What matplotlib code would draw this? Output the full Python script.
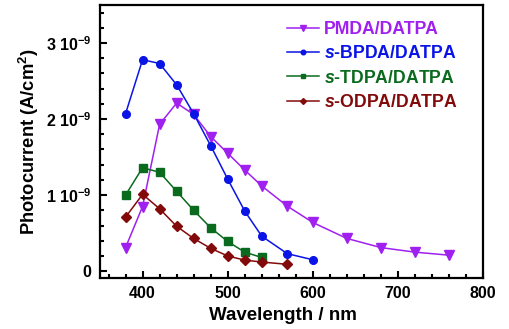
import matplotlib
matplotlib.use('Agg')
import matplotlib.pyplot as plt
from matplotlib.ticker import MultipleLocator, FixedLocator, FuncFormatter

plt.rcParams['font.family'] = 'Liberation Sans'
plt.rcParams['font.weight'] = 'bold'
plt.rcParams['mathtext.fontset'] = 'custom'
plt.rcParams['mathtext.rm'] = 'Liberation Sans:bold'
plt.rcParams['mathtext.it'] = 'Liberation Sans:italic:bold'
plt.rcParams['mathtext.bf'] = 'Liberation Sans:bold'

# photocurrent in units of 1e-9 A/cm2
pmda_x = [380, 400, 420, 440, 460, 480, 500, 520, 540, 570, 600, 640, 680, 720, 760]
pmda_y = [0.31, 0.85, 1.93, 2.21, 2.06, 1.77, 1.55, 1.33, 1.12, 0.855, 0.64, 0.43, 0.31, 0.25, 0.21]

bpda_x = [380, 400, 420, 440, 460, 480, 500, 520, 540, 570, 600]
bpda_y = [2.07, 2.78, 2.73, 2.45, 2.07, 1.65, 1.21, 0.79, 0.46, 0.23, 0.15]

tdpa_x = [380, 400, 420, 440, 460, 480, 500, 520, 540]
tdpa_y = [1.00, 1.36, 1.30, 1.05, 0.80, 0.57, 0.39, 0.25, 0.18]

odpa_x = [380, 400, 420, 440, 460, 480, 500, 520, 540, 570]
odpa_y = [0.71, 1.01, 0.82, 0.59, 0.43, 0.30, 0.20, 0.145, 0.12, 0.09]

yticks = [0, 1, 2, 3]

series = [
    (pmda_x, pmda_y, 'PMDA/DATPA', '#A020F0', 'v', 6.5),
    (bpda_x, bpda_y, r'$\mathit{s}$-BPDA/DATPA', '#0A14E6', 'o', 5.5),
    (tdpa_x, tdpa_y, r'$\mathit{s}$-TDPA/DATPA', '#0A6A1E', 's', 5.5),
    (odpa_x, odpa_y, r'$\mathit{s}$-ODPA/DATPA', '#820A0A', 'D', 5),
]

fig = plt.figure(figsize=(5.09, 3.29), dpi=100)
ax = fig.add_axes([0.1965, 0.155, 0.7525, 0.83])

for x, y, label, color, marker, ms in series:
    ax.plot(x, [v * 1e-9 for v in y], color=color, marker=marker, markersize=ms,
            linewidth=1.1, label=label)

ax.set_xlim(350, 800)
ax.set_ylim(-0.09e-9, 3.5e-9)
ax.xaxis.set_major_locator(FixedLocator([400, 500, 600, 700, 800]))
ax.xaxis.set_minor_locator(MultipleLocator(20))
ax.yaxis.set_major_locator(FixedLocator([t * 1e-9 for t in yticks]))
ax.yaxis.set_minor_locator(MultipleLocator(0.2e-9))

def yfmt(v, pos):
    n = round(v / 1e-9)
    if n == 0:
        return '0'
    return r'%d 10$^{-9}$' % n

ax.yaxis.set_major_formatter(FuncFormatter(yfmt))
ax.tick_params(which='both', direction='in', width=1.5, labelsize=11.5)
ax.tick_params(which='major', length=5, pad=6)
ax.tick_params(which='minor', length=3)
for s in ax.spines.values():
    s.set_linewidth(1.6)

ax.set_xlabel('Wavelength / nm', fontsize=13.5, fontweight='bold', labelpad=5)
ax.xaxis.set_label_coords(0.477, -0.105)
ax.set_ylabel('Photocurrent (A/cm$^2$)', fontsize=13.2, fontweight='bold', labelpad=4)

leg = ax.legend(loc='upper right', frameon=False, fontsize=12.7, markerscale=0.6,
                handlelength=1.8, handletextpad=0.3, labelspacing=0.42,
                bbox_to_anchor=(0.975, 1.0))
for text, (_, _, _, color, _, _) in zip(leg.get_texts(), series):
    text.set_color(color)

fig.savefig('out.png', dpi=100)
